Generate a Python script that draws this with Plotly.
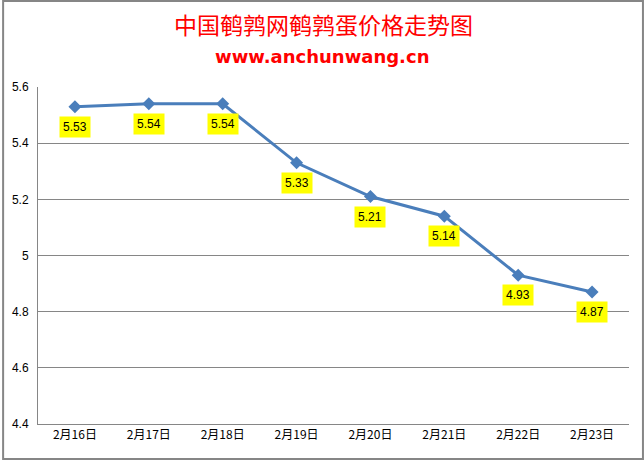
import plotly.graph_objects as go

dates = ["2月16日", "2月17日", "2月18日", "2月19日", "2月20日", "2月21日", "2月22日", "2月23日"]
prices = [5.53, 5.54, 5.54, 5.33, 5.21, 5.14, 4.93, 4.87]
y_ticks = [4.4, 4.6, 4.8, 5.0, 5.2, 5.4, 5.6]
y_tick_labels = ["4.4", "4.6", "4.8", "5", "5.2", "5.4", "5.6"]

W, H = 644, 460
L, R, T, B = 36, 15, 87, 36
pw, ph = W - L - R, H - T - B

fig = go.Figure()
fig.add_trace(go.Scatter(
    x=dates, y=prices, mode="lines+markers",
    line=dict(color="#4A7EBB", width=3),
    marker=dict(symbol="diamond", size=10, color="#4A7EBB"),
    hoverinfo="x+y", showlegend=False,
))

for d, p in zip(dates, prices):
    fig.add_annotation(
        x=d, y=p, text=f"{p:.2f}", showarrow=False, yshift=-20,
        bgcolor="#FFFF00", borderpad=3,
        font=dict(family="Liberation Sans", size=12, color="#000000"),
    )

fig.add_annotation(
    xref="paper", yref="paper", x=(322 - L) / pw, y=1 + (T - 24) / ph,
    text="中国鹌鹑网鹌鹑蛋价格走势图", showarrow=False, yanchor="middle",
    font=dict(family="Noto Sans CJK SC", size=23, color="#FF0000"),
)
fig.add_annotation(
    xref="paper", yref="paper", x=(321 - L) / pw, y=1 + (T - 56) / ph,
    text="<b>www.anchunwang.cn</b>", showarrow=False, yanchor="middle",
    font=dict(family="DejaVu Sans", size=18, color="#FF0000"),
)

fig.add_shape(
    type="rect", xref="paper", yref="paper",
    x0=-(L - 1) / pw, x1=1 + (R - 1) / pw, y0=-(B - 1) / ph, y1=1 + (T - 1) / ph,
    line=dict(color="#868686", width=2), layer="below",
)

fig.update_layout(
    width=W, height=H,
    margin=dict(l=L, r=R, t=T, b=B),
    paper_bgcolor="white", plot_bgcolor="white",
    xaxis=dict(
        type="category", showgrid=False, showline=True, linecolor="#868686", linewidth=1,
        ticks="", tickfont=dict(family="Noto Sans CJK SC", size=12, color="#000000"),
        range=[-0.5, len(dates) - 0.5],
    ),
    yaxis=dict(
        range=[4.4, 5.6], tickvals=y_ticks, ticktext=y_tick_labels,
        showgrid=True, gridcolor="#868686", gridwidth=1,
        showline=True, linecolor="#868686", linewidth=1, zeroline=False,
        ticks="", ticklabelstandoff=6,
        tickfont=dict(family="Liberation Sans", size=12, color="#000000"),
    ),
)

fig.write_html("out.html", config={"displayModeBar": False},
               post_script="document.body.style.margin='0';document.body.style.padding='0';")
